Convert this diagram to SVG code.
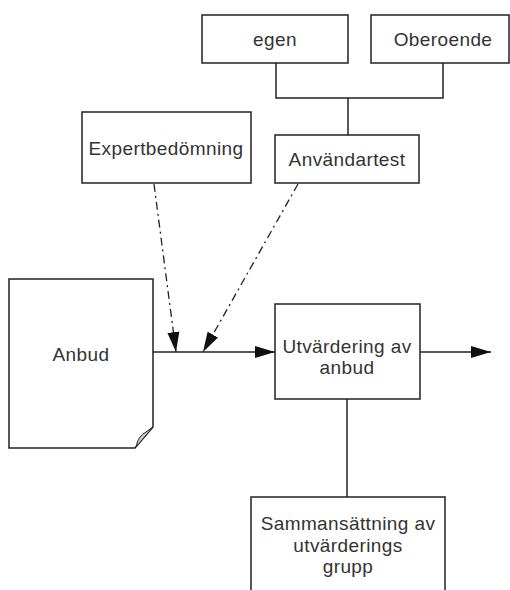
<svg xmlns="http://www.w3.org/2000/svg" width="510" height="590" viewBox="0 0 510 590">
<style>
.box{fill:#fff;stroke:#222;stroke-width:1.5}
.t{font-family:"Liberation Sans",Arial,sans-serif;font-size:19px;fill:#333;text-anchor:middle;letter-spacing:0.4px}
.ln{fill:none;stroke:#222;stroke-width:1.5}
.dd{fill:none;stroke:#222;stroke-width:1.3;stroke-dasharray:8 4 2 4}
</style>
<defs>
<marker id="ah" viewBox="0 0 20 12" refX="20" refY="6" markerWidth="20" markerHeight="13" markerUnits="userSpaceOnUse" orient="auto">
<path d="M0,0 L20,6 L0,12 Z" fill="#111"/>
</marker>
</defs>
<rect width="510" height="590" fill="#fff"/>
<g id="connectors">
<path class="ln" d="M276,63 V98 H443 V63 M348,98 V135"/>
<path class="ln" d="M153,352 H275" marker-end="url(#ah)"/>
<path class="ln" d="M420,352 H491" marker-end="url(#ah)"/>
<path class="ln" d="M347,399 V497"/>
<path class="dd" d="M154,184 L176,352" marker-end="url(#ah)"/>
<path class="dd" d="M298,184 L203,352" marker-end="url(#ah)"/>
</g>
<g id="egen">
<rect class="box" x="202" y="15" width="146" height="48"/>
<text class="t" x="275" y="46">egen</text>
</g>
<g id="oberoende">
<rect class="box" x="371" y="15" width="138" height="48"/>
<text class="t" x="443" y="46">Oberoende</text>
</g>
<g id="anvandartest">
<rect class="box" x="275" y="135" width="144" height="48"/>
<text class="t" x="347" y="166">Användartest</text>
</g>
<g id="expertbedomning">
<rect class="box" x="82" y="112" width="169" height="71"/>
<text class="t" x="166" y="155">Expertbedömning</text>
</g>
<g id="anbud">
<path class="box" d="M9,279 H153 V427 L135,448 H9 Z"/>
<path d="M153,427 L136,447 Q138,436 146,432 Z" fill="#ccc" stroke="#222" stroke-width="1"/>
<text class="t" x="81" y="361">Anbud</text>
</g>
<g id="utvardering">
<rect class="box" x="275" y="304" width="145" height="95"/>
<text class="t" x="347" y="353">Utvärdering av</text>
<text class="t" x="347" y="374">anbud</text>
</g>
<g id="sammansattning">
<rect class="box" x="251" y="497" width="194" height="100"/>
<text class="t" x="348" y="530">Sammansättning av</text>
<text class="t" x="348" y="552">utvärderings</text>
<text class="t" x="348" y="573">grupp</text>
</g>
</svg>
